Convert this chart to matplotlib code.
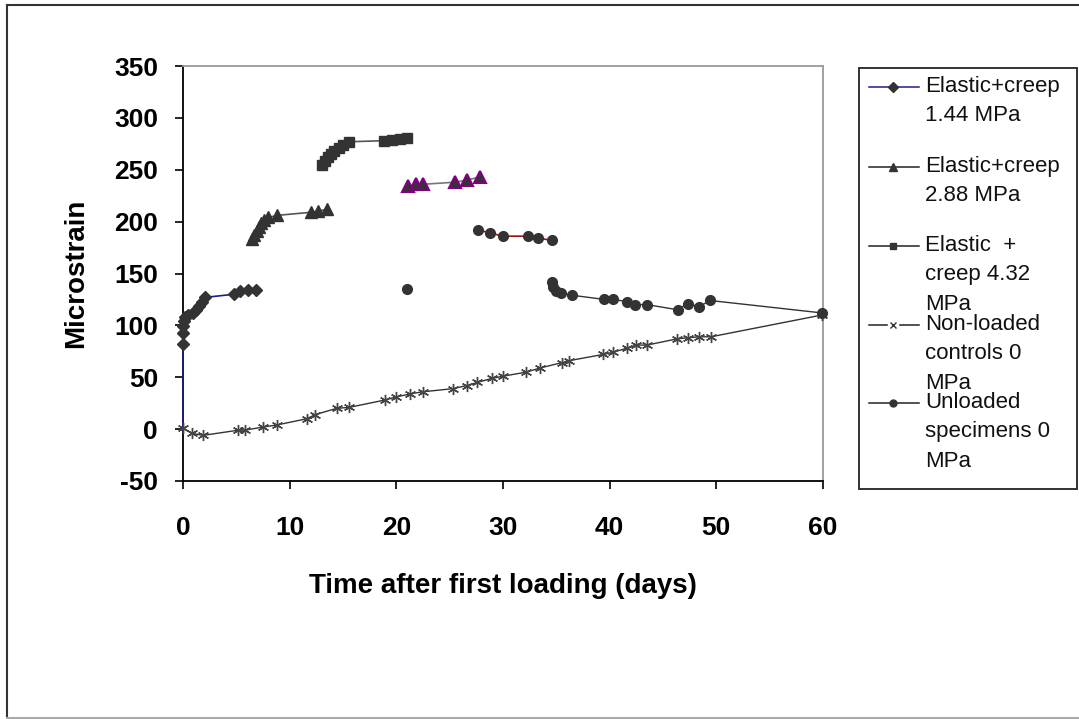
import matplotlib
matplotlib.use("Agg")
import matplotlib.pyplot as plt
from matplotlib.lines import Line2D

# values (days, microstrain)
days_144 = [0, 0, 0, 0, 0.05, 0.2, 0.5, 0.9, 1.2, 1.5, 1.8, 2.1, 4.8, 5.3, 6.1, 6.8]
strain_144 = [0, 82, 93, 99, 104, 108, 110, 112, 115, 119, 123, 127, 130, 133, 134, 134]

days_288 = [6.5, 6.7, 6.9, 7.1, 7.3, 7.6, 8.0, 8.8, 12.0, 12.7, 13.5]
strain_288 = [183, 187, 191, 195, 199, 202, 204, 206, 209, 210, 212]

days_288b = [21.1, 21.8, 22.5, 25.5, 26.6, 27.8]
strain_288b = [234, 236, 236, 238, 240, 243]

days_432 = [13.0, 13.3, 13.6, 13.9, 14.2, 14.6, 15.0, 15.6, 18.8, 19.6, 20.3, 21.0]
strain_432 = [255, 258, 262, 265, 268, 271, 274, 277, 278, 279, 280, 281]

days_432b = [27.7, 28.8, 30.0, 32.3, 33.3, 34.6]
strain_432b = [192, 189, 186, 186, 184, 182]

days_ctrl = [0, 0.8, 1.9, 5.2, 5.8, 7.5, 8.8, 11.6, 12.4, 14.4, 15.6, 18.9, 20.0, 21.3,
             22.5, 25.3, 26.6, 27.6, 29.0, 30.0, 32.2, 33.5, 35.5, 36.2, 39.4, 40.3,
             41.6, 42.5, 43.5, 46.3, 47.3, 48.4, 49.5, 59.9]
strain_ctrl = [1, -4, -6, -1, -1, 2, 4, 10, 14, 20, 21, 28, 31, 34, 36, 39, 42, 45, 49,
               51, 55, 59, 64, 66, 72, 74, 78, 81, 81, 87, 88, 89, 89, 110]

days_unl0 = [21.0]
strain_unl0 = [135]

days_unl = [34.6, 34.7, 35.0, 35.4, 36.5, 39.5, 40.3, 41.6, 42.4, 43.5, 46.4, 47.3,
            48.4, 49.4, 59.9]
strain_unl = [142, 137, 133, 131, 129, 125, 125, 123, 120, 120, 115, 121, 118, 124, 112]

legend_labels = ["Elastic+creep\n1.44 MPa", "Elastic+creep\n2.88 MPa",
                 "Elastic  +\ncreep 4.32\nMPa", "Non-loaded\ncontrols 0\nMPa",
                 "Unloaded\nspecimens 0\nMPa"]

plt.rcParams["font.family"] = ["Liberation Sans", "DejaVu Sans"]
plt.rcParams["axes.unicode_minus"] = False

W, H = 1079, 719
fig = plt.figure(figsize=(W / 100, H / 100), dpi=100)
ax = fig.add_axes([183 / W, 1 - 481 / H, 640 / W, 415 / H])

mk = "#333333"
ax.plot(days_144, strain_144, color="#1c1c8c", lw=1.2, marker="D", ms=6,
        mfc=mk, mec=mk, markevery=slice(1, None), clip_on=False, zorder=3)
ax.plot(days_288, strain_288, color="#555555", lw=1.2, marker="^", ms=8,
        mfc=mk, mec=mk, clip_on=False, zorder=3)
ax.plot(days_288b, strain_288b, color="#777777", lw=1.2, marker="^", ms=8,
        mfc=mk, mec="#800080", mew=1.5, clip_on=False, zorder=3)
ax.plot(days_432, strain_432, color="#555555", lw=1.2, marker="s", ms=7,
        mfc=mk, mec=mk, clip_on=False, zorder=3)
ax.plot(days_432b, strain_432b, color="#a01010", lw=1.2, marker="o", ms=7,
        mfc=mk, mec=mk, clip_on=False, zorder=3)
ax.plot(days_ctrl, strain_ctrl, color="#333333", lw=1.0, marker=(6, 2, 0), ms=8,
        mew=1.0, mec="#444444", clip_on=False, zorder=3)
ax.plot(days_unl0, strain_unl0, color="#333333", lw=1.0, marker="o", ms=7,
        mfc=mk, mec=mk, clip_on=False, zorder=3)
ax.plot(days_unl, strain_unl, color="#333333", lw=1.0, marker="o", ms=7,
        mfc=mk, mec=mk, clip_on=False, zorder=3)

ax.set_xlim(0, 60)
ax.set_ylim(-50, 350)
ax.set_xticks(range(0, 61, 10))
ax.set_yticks(range(-50, 351, 50))
ax.tick_params(direction="out", length=6, width=1.2, labelsize=19, color="black")
ax.tick_params(axis="y", pad=12)
ax.tick_params(axis="x", pad=19)
for lab in ax.get_xticklabels() + ax.get_yticklabels():
    lab.set_fontweight("bold")
for s in ["left", "bottom"]:
    ax.spines[s].set_color("black")
    ax.spines[s].set_linewidth(1.3)
for s in ["top", "right"]:
    ax.spines[s].set_color("#9a9a9a")
    ax.spines[s].set_linewidth(1.3)

ax.set_ylabel("Microstrain", fontsize=20, fontweight="bold", labelpad=18)
ax.set_xlabel("Time after first loading (days)", fontsize=20, fontweight="bold", labelpad=24)

# legend box drawn by hand so handles sit on the first text line
fig.patches.append(plt.Rectangle((859 / W, 1 - 489 / H), 218 / W, 421 / H,
                                 transform=fig.transFigure, fill=False,
                                 edgecolor="#222222", lw=1.3))
handle_y = [87, 167, 246, 325, 403]
handle_line = ["#1c1c8c", "#222222", "#222222", "#222222", "#222222"]
handle_marker = ["D", "^", "s", "x", "o"]
for yy, label, lc, m in zip(handle_y, legend_labels, handle_line, handle_marker):
    yf = 1 - yy / H
    fig.add_artist(Line2D([869 / W, 919 / W], [yf, yf], transform=fig.transFigure,
                          lw=1.1, color=lc))
    if m == "x":
        # white gap behind the small x like the reference
        fig.add_artist(Line2D([893 / W], [yf], transform=fig.transFigure, ls="none",
                              marker="s", ms=7, mfc="white", mec="white"))
    fig.add_artist(Line2D([893 / W], [yf], transform=fig.transFigure, ls="none",
                          marker=m, ms=5 if m != "^" else 6, mfc=mk, mec=mk))
    fig.text(925 / W, yf + 11 / H, label, fontsize=16, va="top", ha="left",
             color="#111111", linespacing=1.52)

# outer chart frame
fig.add_artist(Line2D([7 / W, 7 / W], [0.001, 1 - 5 / H], transform=fig.transFigure, color="#333333", lw=1.5))
fig.add_artist(Line2D([7 / W, 1], [1 - 5 / H, 1 - 5 / H], transform=fig.transFigure, color="#333333", lw=1.5))
fig.add_artist(Line2D([7 / W, 1], [0.0015, 0.0015], transform=fig.transFigure, color="#aaaaaa", lw=1.5))

plt.savefig("out.png", dpi=100)
